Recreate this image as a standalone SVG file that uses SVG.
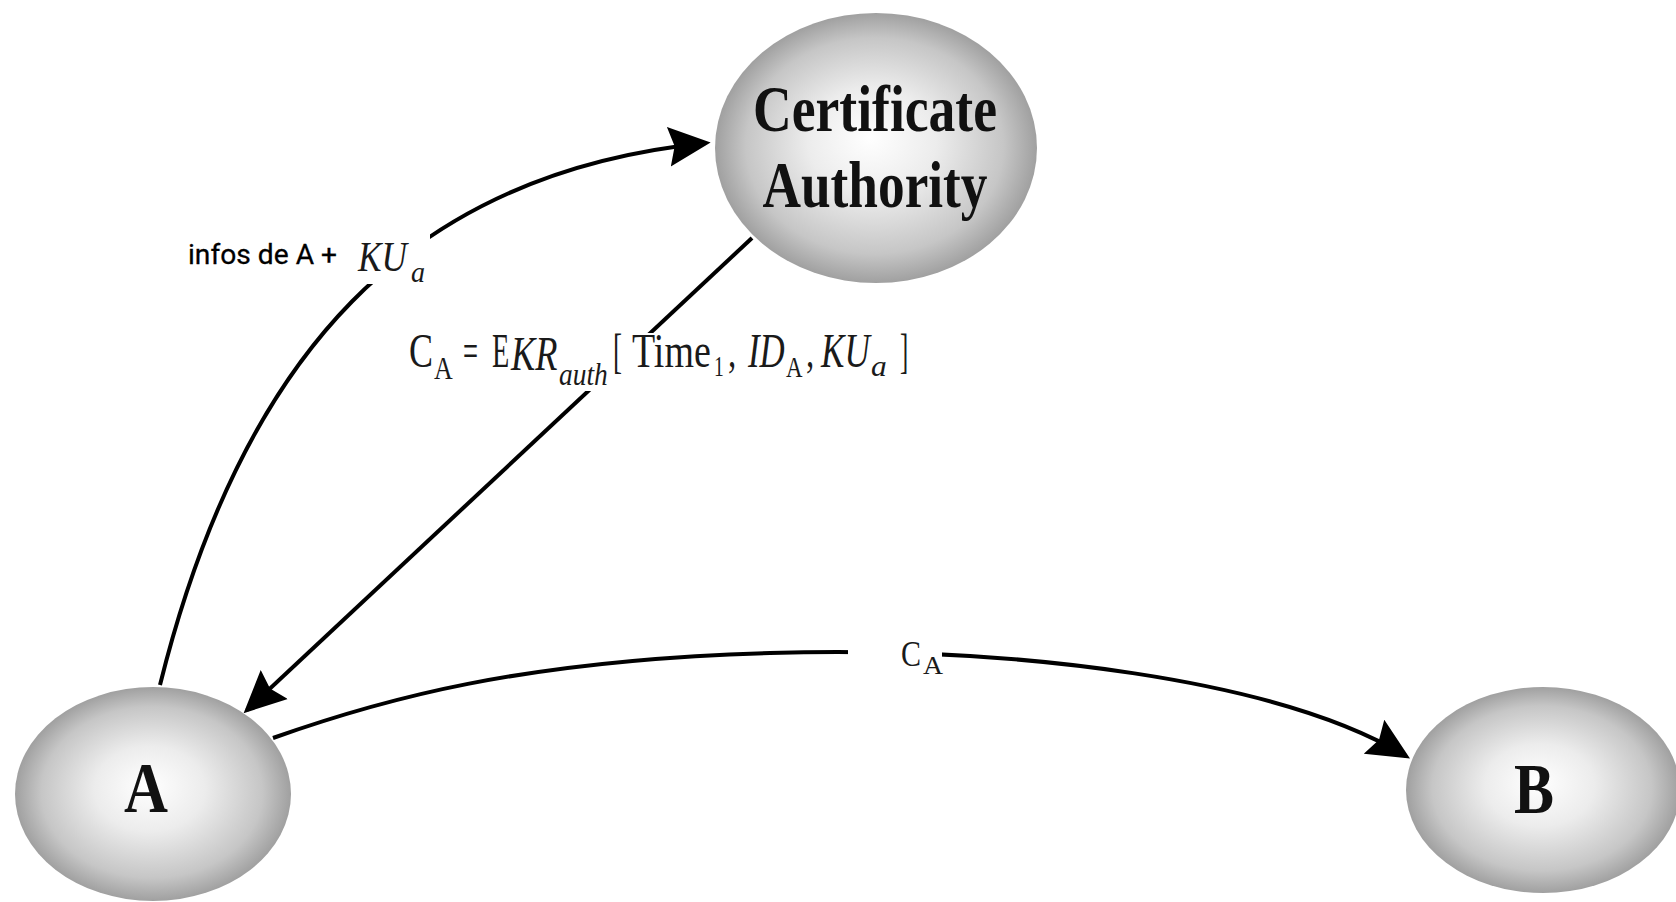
<svg xmlns="http://www.w3.org/2000/svg" width="1676" height="902" viewBox="0 0 1676 902">
  <defs>
    <radialGradient id="ball" cx="50%" cy="50%" r="50%" fx="48%" fy="46%">
      <stop offset="0%" stop-color="#ffffff"/>
      <stop offset="40%" stop-color="#ececec"/>
      <stop offset="80%" stop-color="#c6c6c6"/>
      <stop offset="100%" stop-color="#a0a0a0"/>
    </radialGradient>
    <marker id="arrow" markerUnits="userSpaceOnUse" markerWidth="42" markerHeight="42" viewBox="0 0 36 34" refX="32" refY="17" orient="auto">
      <path d="M0,0 L36,17 L0,34 L5,17 Z" fill="#000"/>
    </marker>
    <style>
      .node { fill: url(#ball); }
      .conn { fill: none; stroke: #000; stroke-width: 4; marker-end: url(#arrow); }
      .big { font-family: "Liberation Serif", "Times New Roman", serif; font-weight: bold; fill: #111; }
      .f { font-family: "Liberation Serif", "Times New Roman", serif; fill: #1a1a1a; }
      .it { font-style: italic; }
      .sans { font-family: Roboto, "Liberation Sans", Arial, sans-serif; fill: #000; stroke: #000; stroke-width: 0.3; }
      .bg { fill: #ffffff; }
    </style>
  </defs>

  <rect x="0" y="0" width="1676" height="902" fill="#ffffff"/>

  <g id="connectors">
    <path id="e-a-ca" class="conn" d="M160,685 C242,355 408,173 706,143"/>
    <path id="e-ca-a" class="conn" d="M752,238 L247,710"/>
    <path id="e-a-b" class="conn" d="M273,738 C380,700 520,660 770,653 C1020,646 1280,680 1406,756"/>
  </g>

  <g id="labels">
    <g id="label-infos">
      <rect class="bg" x="180" y="233" width="250" height="51"/>
      <text x="188" y="264"><tspan class="sans" font-size="28" textLength="149" lengthAdjust="spacingAndGlyphs">infos de A +</tspan><tspan class="f it" x="358" y="271" font-size="42" fill="#333" textLength="49" lengthAdjust="spacingAndGlyphs">KU</tspan><tspan class="f it" x="411" y="282" font-size="30" fill="#333" textLength="14" lengthAdjust="spacingAndGlyphs">a</tspan></text>
    </g>
    <g id="label-cert">
      <rect class="bg" x="400" y="333" width="515" height="58"/>
      <text class="f" font-size="48" transform="scale(0.75,1)"><tspan x="545.3" y="367" textLength="32" lengthAdjust="spacingAndGlyphs">C</tspan><tspan x="578.7" y="379" font-size="32" textLength="25" lengthAdjust="spacingAndGlyphs">A</tspan><tspan x="617.3" y="367" textLength="20" lengthAdjust="spacingAndGlyphs">=</tspan><tspan x="656" y="367" textLength="23" lengthAdjust="spacingAndGlyphs">E</tspan><tspan class="it" x="681.3" y="370" textLength="62" lengthAdjust="spacingAndGlyphs">KR</tspan><tspan class="it" x="745.3" y="385" font-size="32" textLength="65" lengthAdjust="spacingAndGlyphs">auth</tspan><tspan x="817.3" y="367" textLength="12" lengthAdjust="spacingAndGlyphs">[</tspan><tspan x="842.7" y="367" textLength="105" lengthAdjust="spacingAndGlyphs">Time</tspan><tspan x="952" y="376" font-size="30" textLength="13" lengthAdjust="spacingAndGlyphs">1</tspan><tspan x="970.7" y="367" font-size="44">,</tspan><tspan class="it" x="997.3" y="367" textLength="49" lengthAdjust="spacingAndGlyphs">ID</tspan><tspan x="1048" y="377" font-size="30" textLength="22" lengthAdjust="spacingAndGlyphs">A</tspan><tspan x="1074.7" y="367" font-size="44">,</tspan><tspan class="it" x="1094.7" y="367" textLength="65" lengthAdjust="spacingAndGlyphs">KU</tspan><tspan class="it" x="1161.3" y="376" font-size="30" textLength="21" lengthAdjust="spacingAndGlyphs">a</tspan><tspan x="1200" y="367" textLength="11" lengthAdjust="spacingAndGlyphs">]</tspan></text>
    </g>
    <g id="label-ca">
      <rect class="bg" x="848" y="636" width="94" height="44"/>
      <text class="f" font-size="36"><tspan x="901" y="666" textLength="20" lengthAdjust="spacingAndGlyphs">C</tspan><tspan x="923" y="674" font-size="26" textLength="20" lengthAdjust="spacingAndGlyphs">A</tspan></text>
    </g>
  </g>

  <g id="node-ca">
    <ellipse class="node" cx="876" cy="148" rx="161" ry="135"/>
    <text class="big" font-size="66" text-anchor="middle"><tspan x="875" y="131" textLength="244" lengthAdjust="spacingAndGlyphs">Certificate</tspan><tspan x="875" y="207" textLength="225" lengthAdjust="spacingAndGlyphs">Authority</tspan></text>
  </g>

  <g id="node-a">
    <ellipse class="node" cx="153" cy="794" rx="138" ry="107"/>
    <text class="big" x="146" y="812" font-size="72" text-anchor="middle" textLength="44" lengthAdjust="spacingAndGlyphs">A</text>
  </g>

  <g id="node-b">
    <ellipse class="node" cx="1543" cy="790" rx="137" ry="103"/>
    <text class="big" x="1534" y="813" font-size="72" text-anchor="middle" textLength="40" lengthAdjust="spacingAndGlyphs">B</text>
  </g>
</svg>
